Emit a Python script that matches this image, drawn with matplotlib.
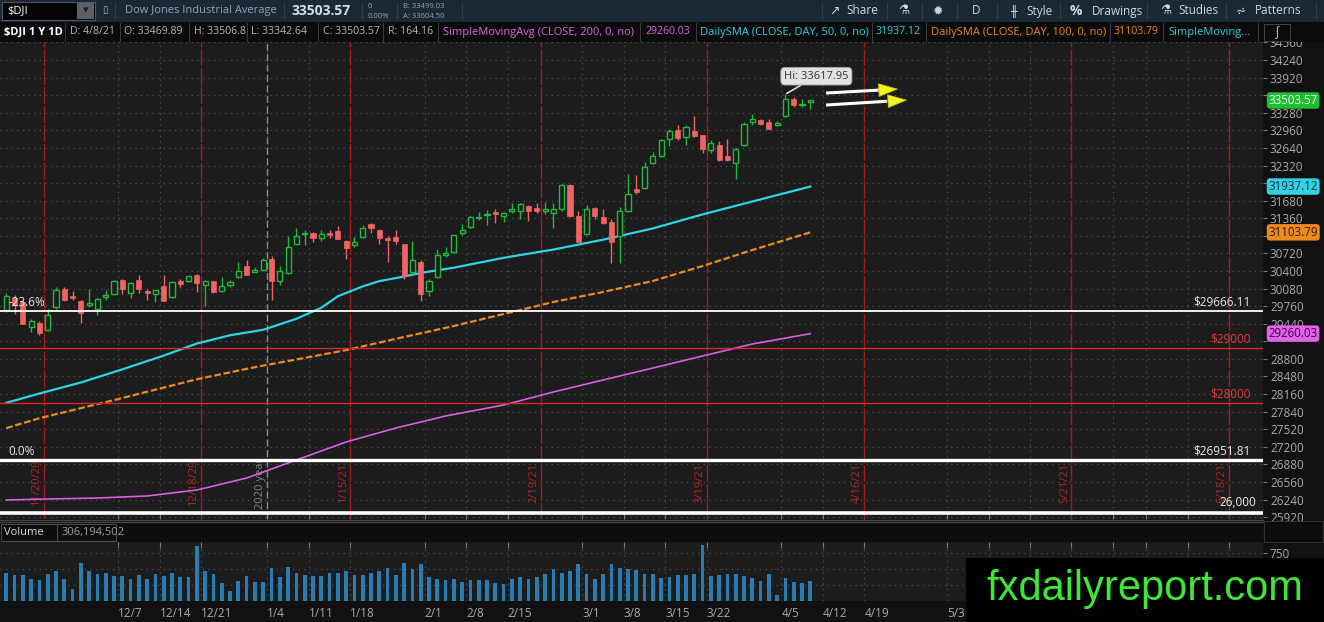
import matplotlib
matplotlib.use("Agg")
import matplotlib.pyplot as plt
import matplotlib.transforms as mtransforms
from matplotlib.patches import Rectangle
from matplotlib.lines import Line2D
import numpy as np
import pandas as pd

plt.rcParams["font.family"] = ["Open Sans", "DejaVu Sans"]

W, H = 1324, 622

# trading days on the chart (11/16/20 .. 6/25/21)
HOLIDAYS = ["2020-11-26", "2020-12-25", "2021-01-01", "2021-01-18",
            "2021-02-15", "2021-04-02", "2021-05-31"]
days = pd.bdate_range("2020-11-16", "2021-06-25")
days = days[~days.isin(pd.to_datetime(HOLIDAYS))]

# daily candles 11/16/20 .. 4/8/21 (one row per week)
opens = [29690, 29900, 29830, 29380, 29450,
         29330, 29750, 30070, 29950,
         29850, 29790, 29710, 29930, 29990,
         30240, 30000, 30230, 30040, 29990,
         30130, 29920, 30220, 30215, 30330,
         30150, 30210, 30030, 30150,
         30283, 30500, 30390, 30415,
         30627, 30225, 30360, 30900, 31070,
         31100, 31000, 31100, 31130, 30940,
         30880, 31020, 31250, 31150,
         31000, 31010, 30890, 30380, 30570,
         30040, 30290, 30700, 30750, 31100,
         31200, 31370, 31420, 31470, 31400,
         31490, 31500, 31580, 31540,
         31500, 31450, 31520, 31960, 31410,
         31070, 31550, 31380, 31290, 31030,
         31500, 31900, 31910, 32370, 32490,
         32810, 32970, 32830, 32940, 32870,
         32600, 32700, 32490, 32360, 32700,
         33110, 33150, 33110, 33060,
         33220, 33530, 33430, 33470]
highs = [30000, 29960, 29880, 29520, 29490,
         29700, 30110, 30110, 30030,
         29880, 30080, 29900, 30060, 30230,
         30260, 30200, 30330, 30080, 30060,
         30330, 30210, 30250, 30320, 30340,
         30230, 30220, 30290, 30230,
         30560, 30600, 30470, 30640,
         30670, 30500, 31030, 31190, 31140,
         31110, 31150, 31150, 31220, 30960,
         31020, 31230, 31270, 31160,
         31030, 31150, 30900, 30955, 30600,
         30260, 30800, 30830, 31060, 31247,
         31400, 31470, 31502, 31530, 31470,
         31640, 31630, 31600, 31630,
         31650, 31640, 31990, 31980, 31500,
         31600, 31560, 31520, 31350, 31560,
         32160, 32150, 32390, 32560, 32800,
         32990, 33050, 33050, 33227, 32880,
         32780, 32760, 32800, 32640, 33110,
         33250, 33170, 33160, 33130,
         33618, 33570, 33530, 33507]
lows = [29650, 29620, 29430, 29290, 29230,
        29300, 29700, 29850, 29870,
        29460, 29750, 29600, 29870, 29980,
        29975, 29900, 30000, 29870, 29830,
        29860, 29900, 30100, 30200, 30020,
        29770, 30000, 30020, 30110,
        30270, 30320, 30380, 30400,
        29881, 30150, 30350, 30890, 30870,
        30920, 30950, 31000, 30980, 30620,
        30840, 31000, 31100, 30900,
        30560, 30900, 30250, 30350, 29860,
        29950, 30280, 30650, 30720, 31050,
        31180, 31330, 31229, 31280, 31300,
        31450, 31340, 31310, 31450,
        31440, 31174, 31500, 31380, 30920,
        31060, 31350, 31250, 30550, 30550,
        31480, 31800, 31900, 32350, 32480,
        32670, 32780, 32700, 32840, 32550,
        32550, 32400, 32400, 32070, 32680,
        33060, 33050, 32980, 33030,
        33200, 33390, 33380, 33343]
closes = [29950, 29783, 29438, 29483, 29263,
          29591, 30046, 29872, 29910,
          29638, 29824, 29884, 29970, 30218,
          30070, 30174, 30069, 29999, 30046,
          29862, 30200, 30155, 30303, 30179,
          30216, 30016, 30130, 30199,
          30404, 30336, 30410, 30606,
          30224, 30392, 30829, 31041, 31098,
          31008, 31069, 31060, 30991, 30814,
          30930, 31188, 31176, 30997,
          30960, 30937, 30303, 30603, 29983,
          30212, 30687, 30724, 31056, 31148,
          31386, 31376, 31438, 31431, 31458,
          31523, 31613, 31493, 31494,
          31522, 31537, 31962, 31402, 30932,
          31536, 31392, 31270, 30924, 31496,
          31802, 31833, 32297, 32486, 32779,
          32953, 32826, 33015, 32862, 32628,
          32731, 32423, 32420, 32619, 33073,
          33171, 33067, 32982, 33090,
          33527, 33430, 33446, 33504]
# volume, millions
volume = [442, 400, 400, 348, 322,
          416, 463, 338, 182,
          588, 463, 416, 432, 385,
          385, 338, 400, 338, 416,
          385, 442, 369, 369, 853,
          473, 416, 286, 151,
          317, 385, 302, 302,
          510, 369, 525, 442, 400,
          385, 385, 432, 442, 463,
          400, 400, 442, 463,
          510, 400, 598, 494, 572,
          369, 348, 322, 348, 302,
          333, 322, 333, 286, 270,
          348, 369, 348, 369,
          416, 494, 432, 473, 572,
          416, 348, 425, 580, 520,
          505, 479, 418, 418, 352,
          377, 403, 403, 428, 877,
          393, 403, 418, 418, 393,
          362, 316, 428, 97,
          352, 291, 275, 306]

# moving averages (bar index, value)
sma50_x = [0, 4, 9, 14, 19, 23, 27, 31, 35, 38, 40, 43, 45, 48, 50, 54, 60, 66, 72, 78, 84, 90, 97]
sma50_y = [28000, 28170, 28370, 28610, 28860, 29080, 29230, 29330, 29530, 29730, 29940, 30120,
           30215, 30300, 30365, 30460, 30640, 30790, 30970, 31175, 31430, 31665, 31937.12]
sma100_x = [0, 4, 13, 23, 30, 35, 41, 48, 54, 60, 66, 72, 78, 84, 90, 97]
sma100_y = [27540, 27720, 28050, 28430, 28650, 28790, 28960, 29199, 29399, 29617, 29836,
            30018, 30218, 30491, 30782, 31103.79]
sma200_x = [0, 5, 11, 17, 23, 29, 35, 41, 47, 53, 60, 66, 72, 78, 84, 90, 97]
sma200_y = [26232, 26250, 26268, 26305, 26414, 26632, 26960, 27288, 27542, 27761, 27961,
            28198, 28416, 28634, 28853, 29071, 29260.03]

fib_levels = [29666.11, 26951.81]
fib_names = ["-23.6%", "0.0%"]
red_levels = [29000, 28000]
support_level = 26000

tick_names = ["12/7", "12/14", "12/21", "1/4", "1/11", "1/18", "2/1", "2/8", "2/15",
              "3/1", "3/8", "3/15", "3/22", "4/5", "4/12", "4/19", "5/3", "5/10",
              "5/17", "5/24", "6/1", "6/7", "6/14", "6/21"]
expiries = ["11/20/20", "12/18/20", "1/15/21", "2/19/21", "3/19/21", "4/16/21", "5/21/21", "6/18/21"]


def to_date(s):
    m, d = [int(v) for v in s.split("/")[:2]]
    return pd.Timestamp(2020 if m >= 11 else 2021, m, d)


tick_pos = [days.searchsorted(to_date(s)) - 0.5 for s in tick_names]
exp_pos = [days.searchsorted(to_date(s)) + 0.5 for s in expiries]
year_pos = days.searchsorted(pd.Timestamp(2021, 1, 4)) - 0.5

BG = "#1c1c1c"
GREEN = "#22b83c"
RED = "#f06464"
CYAN = "#2fd3e3"
ORANGE = "#ec8a1e"
MAGENTA = "#d860e0"
GRID = "#515151"
AXTXT = "#aaaaaa"

fig = plt.figure(figsize=(W / 100, H / 100), dpi=100, facecolor="#111111")


def fx(x):
    return x / W


def fy(y):
    return 1 - y / H


def frect(x0, y0, x1, y1, **kw):
    fig.add_artist(Rectangle((fx(x0), fy(y1)), (x1 - x0) / W, (y1 - y0) / H,
                             transform=fig.transFigure, **kw))


def ftext(x, y, s, **kw):
    kw.setdefault("va", "center")
    fig.text(fx(x), fy(y), s, **kw)


def fline(x0, y0, x1, y1, **kw):
    fig.add_artist(Line2D([fx(x0), fx(x1)], [fy(y0), fy(y1)], transform=fig.transFigure, **kw))


PLOT_R = 1263
ax = fig.add_axes([0, fy(519), PLOT_R / W, 477 / H])
axv = fig.add_axes([0, fy(601), PLOT_R / W, 59 / H], sharex=ax)

for a in (ax, axv):
    a.set_facecolor(BG)
    for sp in a.spines.values():
        sp.set_visible(False)
    a.grid(True, color=GRID, linestyle=(0, (1, 3.5)), lw=0.9)
    a.set_axisbelow(True)

# ---- price panel
n = len(closes)
xi = np.arange(n)
o = np.array(opens, float)
c = np.array(closes, float)
up = c >= o
ax.vlines(xi, lows, highs, colors=np.where(up, GREEN, RED), lw=1, zorder=4)
ax.bar(xi[up], np.maximum(c[up] - o[up], 8), bottom=o[up], width=0.62,
       facecolor=BG, edgecolor=GREEN, lw=1, zorder=5)
ax.bar(xi[~up], np.maximum(o[~up] - c[~up], 8), bottom=c[~up], width=0.62,
       facecolor=RED, edgecolor=RED, lw=0.5, zorder=5)

ax.plot(sma200_x, sma200_y, color=MAGENTA, lw=1.2, zorder=3)
ax.plot(sma100_x, sma100_y, color=ORANGE, lw=1.6, ls=(0, (3, 1.2)), zorder=3)
ax.plot(sma50_x, sma50_y, color=CYAN, lw=1.6, zorder=3)

for p in exp_pos:
    ax.axvline(p, color="#a8181c", lw=1, ls=(0, (12, 1.6)), zorder=2)
ax.axvline(year_pos, color="#8a8a8a", lw=1, ls=(0, (5, 2.5)), zorder=2)

label_y = 26540
for p, s in zip(exp_pos, expiries):
    ax.text(p - 0.2, label_y, s, rotation=90, ha="right", va="center",
            color="#b3242a", fontsize=8, zorder=2)
ax.text(year_pos - 0.2, label_y, "2020 year", rotation=90, ha="right", va="center",
        color="#858585", fontsize=8, zorder=2)

hcoords = ("axes fraction", "data")
for lvl, nm in zip(fib_levels, fib_names):
    lw = 1.3 if lvl > 27000 else 2.4
    ax.axhline(lvl, color="white", lw=lw, zorder=6)
    ax.annotate(nm, xy=(0.007, lvl), xycoords=hcoords, xytext=(0, 2), textcoords="offset points",
                ha="left", va="bottom", color="#e8e8e8", fontsize=8.5, zorder=7)
    ax.annotate("$%.2f" % lvl, xy=(0.99, lvl), xycoords=hcoords, xytext=(0, 2),
                textcoords="offset points", ha="right", va="bottom", color="#e8e8e8",
                fontsize=8.5, zorder=7)
for lvl in red_levels:
    ax.axhline(lvl, color="#d42a2a", lw=1, zorder=6)
    ax.annotate("$%d" % lvl, xy=(0.99, lvl), xycoords=hcoords, xytext=(0, 2),
                textcoords="offset points", ha="right", va="bottom", color="#e0393c",
                fontsize=8.5, zorder=7)
ax.axhline(support_level, color="white", lw=2.6, zorder=6)
ax.annotate("{:,}".format(support_level), xy=(0.995, support_level), xycoords=hcoords,
            xytext=(0, 3), textcoords="offset points", ha="right", va="bottom",
            color="#f0f0f0", fontsize=8.5, zorder=7)

# high callout and the two arrows
i_hi = int(np.argmax(highs))
ax.annotate("Hi: %.2f" % 33617.95, xy=(i_hi, highs[i_hi]), xytext=(-1, 9),
            textcoords="offset points", ha="left", va="bottom", color="#333333", fontsize=8,
            bbox=dict(boxstyle="round,pad=0.3,rounding_size=0.4", fc="#e2e2e2", ec="#a0a0a0", lw=0.6),
            arrowprops=dict(arrowstyle="-", color="#d8d8d8", lw=1.2, shrinkA=0, shrinkB=1),
            zorder=8)
for (x0, y0), (x1, y1) in [((98.9, 33639), (107.6, 33712)), ((98.9, 33421), (108.7, 33512))]:
    bx, by = x0 + 0.75 * (x1 - x0), y0 + 0.75 * (y1 - y0)
    ax.plot([x0, bx], [y0, by], color="white", lw=2.2, solid_capstyle="butt", zorder=8)
    ax.annotate("", xy=(x1, y1), xytext=(bx - 0.3, y0 + (by - y0) * (bx - 0.3 - x0) / (bx - x0)),
                arrowprops=dict(arrowstyle="-|>,head_length=1.3,head_width=0.45",
                                fc="#f4f41a", ec="#c8c820", lw=0.6, shrinkA=0, shrinkB=0),
                zorder=9)

ax.set_xlim(-0.75, 151.6)
ax.set_ylim(25886, 34568)
price_ticks = np.arange(25920, 34561, 320)
ax.set_yticks(price_ticks)
# labels that sit under the last-value tags are hidden, as on the platform
hidden = {33600, 32000, 31040, 29120}
ax.set_yticklabels(["" if t in hidden else str(t) for t in price_ticks])
ax.yaxis.tick_right()
ax.tick_params(axis="y", length=3, color="#777777", labelcolor=AXTXT, labelsize=8.5, pad=2)
ax.set_xticks(tick_pos)
ax.tick_params(axis="x", bottom=True, direction="in", length=4, color="#777777", labelbottom=False)

# last-value tags on the price scale
tag_tr = mtransforms.blended_transform_factory(ax.transAxes, ax.transData)
for val, fc, tc in [(closes[-1] - 0.43, "#1fbe30", "#f4fff4"), (sma50_y[-1], CYAN, "#06303a"),
                    (sma100_y[-1], ORANGE, "#3a1500"), (sma200_y[-1], "#e063ea", "#3a003c")]:
    ax.text(1 + 5.5 / PLOT_R, val, "%.2f" % val, transform=tag_tr, ha="left", va="center",
            fontsize=8.3, color=tc, clip_on=False, zorder=10,
            bbox=dict(boxstyle="round,pad=0.15,rounding_size=0.3", fc=fc, ec="none"))

# ---- volume panel
axv.bar(xi, volume, width=0.45, color="#2a7bb1", zorder=3)
axv.set_ylim(0, 922)
axv.set_yticks([250, 500, 750])
axv.set_yticklabels(["", "", "750"])
axv.yaxis.tick_right()
axv.tick_params(axis="y", length=3, color="#777777", labelcolor=AXTXT, labelsize=8.5, pad=2)
axv.set_xticks(tick_pos)
axv.set_xticklabels(tick_names, ha="left")
axv.tick_params(axis="x", bottom=False, top=True, direction="in", length=4, color="#777777",
                labelcolor=AXTXT, labelsize=8.5, pad=4)

# ---- chrome: toolbar, study header, panel header, watermark
frect(0, 0, W, 22, fc="#1b2836", ec="none")
frect(2, 2, 95, 20, fc="#050505", ec="#485868", lw=0.8)
frect(77, 3, 94, 19, fc="#5b6168", ec="none")
ftext(85.5, 11, "▾", color="#202020", fontsize=8, ha="center")
ftext(7, 11, "$DJI", color="white", fontsize=8)
ftext(102, 11, "▯", color="#9fb3c8", fontsize=7)
ftext(125, 11, "Dow Jones Industrial Average", color="#8ea3b7", fontsize=8)
ftext(292, 11, "33503.57", color="#d5dbe1", fontsize=10, weight="bold")
ftext(368, 6.5, "0", color="#8ea3b7", fontsize=5.5)
ftext(368, 16, "0.00%", color="#8ea3b7", fontsize=5.5)
ftext(403, 6.5, "B: 33499.03", color="#8ea3b7", fontsize=5.5)
ftext(403, 16, "A: 33604.50", color="#8ea3b7", fontsize=5.5)
for x in [115, 284, 362, 397, 462, 822, 887, 922, 957, 997, 1060, 1147, 1226, 1316]:
    fline(x, 3, x, 19, color="#2e3e4e", lw=0.8)
TB = "#d2d8de"
ftext(829, 11, "↗", color=TB, fontsize=9)
ftext(846, 11, "Share", color=TB, fontsize=8.5)
ftext(898, 11, "⚗", color=TB, fontsize=9)
ftext(932, 11, "✹", color=TB, fontsize=9)
ftext(972, 11, "D", color=TB, fontsize=8.5)
ftext(1010, 11, "╫", color=TB, fontsize=8)
ftext(1026, 11, "Style", color=TB, fontsize=8.5)
ftext(1070, 11, "%", color=TB, fontsize=10, weight="bold")
ftext(1092, 11, "Drawings", color=TB, fontsize=8.5)
ftext(1160, 11, "⚗", color=TB, fontsize=9)
ftext(1178, 11, "Studies", color=TB, fontsize=8.5)
ftext(1236, 11, "⩫", color=TB, fontsize=9)
ftext(1255, 11, "Patterns", color=TB, fontsize=8.5)

frect(0, 22, W, 42, fc="#0b0b0b", ec="none")
HD = "#b5b5b5"
header = [(4, "$DJI 1 Y 1D", "white", "bold", 8), (70, "D: 4/8/21", HD, "normal", 7.6),
          (124, "O: 33469.89", HD, "normal", 7.6), (194, "H: 33506.8", HD, "normal", 7.6),
          (251, "L: 33342.64", HD, "normal", 7.6), (323, "C: 33503.57", HD, "normal", 7.6),
          (388, "R: 164.16", HD, "normal", 7.6),
          (443, "SimpleMovingAvg (CLOSE, 200, 0, no)", "#dd66e6", "normal", 8),
          (645, "29260.03", "#dd66e6", "normal", 7.6),
          (700, "DailySMA (CLOSE, DAY, 50, 0, no)", CYAN, "normal", 8),
          (876, "31937.12", CYAN, "normal", 7.6),
          (931, "DailySMA (CLOSE, DAY, 100, 0, no)", ORANGE, "normal", 8),
          (1114, "31103.79", ORANGE, "normal", 7.6),
          (1168, "SimpleMoving...", "#3fc9d9", "normal", 8)]
for x, s, col, wt, fs in header:
    ftext(x, 32, s, color=col, fontsize=fs, weight=wt)
for x in [65, 120, 189, 247, 318, 383, 438, 640, 696, 872, 926, 1110, 1163, 1258]:
    fline(x, 23, x, 41, color="#3a3a3a", lw=0.8)
frect(1264, 24, 1290, 41, fc="#0b0b0b", ec="#4a4a4a", lw=0.6)
ftext(1277, 32.5, "∫", color="#d0d0d0", fontsize=9, ha="center")

fline(0, 519.5, PLOT_R, 519.5, color="#444444", lw=1)
frect(0, 521, PLOT_R, 542, fc="#0d0d0d", ec="none")
fline(0, 521.5, PLOT_R, 521.5, color="#444444", lw=1)
frect(1, 524, 116, 541, fc="#0d0d0d", ec="#4a4a4a", lw=0.8)
ftext(4, 532.5, "Volume", color="#d8d8d8", fontsize=8)
fline(57, 524, 57, 541, color="#4a4a4a", lw=0.8)
ftext(62, 532.5, "306,194,502", color="#9e9e9e", fontsize=8)
frect(1264, 521, 1323, 542, fc="#0d0d0d", ec="#3a3a3a", lw=0.6)

frect(966, 558, W, H, fc="black", ec="none")
ftext(1145, 600, "fxdailyreport.com", color="#3ee636", fontsize=30,
      family=["Liberation Sans", "DejaVu Sans"], ha="center", va="baseline")

fig.savefig("out.png", dpi=100, facecolor=fig.get_facecolor())
